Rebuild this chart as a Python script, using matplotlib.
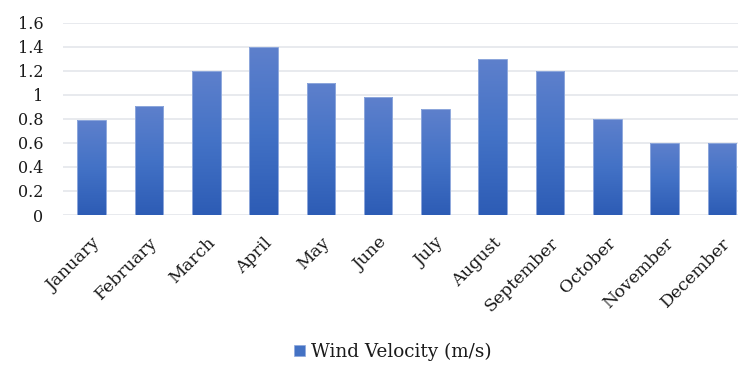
import matplotlib
matplotlib.use("Agg")
import matplotlib.pyplot as plt
import matplotlib.transforms as mtransforms
import numpy as np
from matplotlib.colors import LinearSegmentedColormap
from matplotlib.patches import Patch

months = ["January", "February", "March", "April", "May", "June", "July",
          "August", "September", "October", "November", "December"]
wind_velocity = [0.79, 0.91, 1.2, 1.4, 1.1, 0.98, 0.88, 1.3, 1.2, 0.8, 0.6, 0.6]
y_ticks = [0, 0.2, 0.4, 0.6, 0.8, 1.0, 1.2, 1.4, 1.6]
y_tick_labels = ["0", "0.2", "0.4", "0.6", "0.8", "1", "1.2", "1.4", "1.6"]
series_name = "Wind Velocity (m/s)"

plt.rcParams['font.family'] = ['DejaVu Serif']

W, H = 738, 365
fig = plt.figure(figsize=(W / 100, H / 100), dpi=100)
ax = fig.add_axes([63 / W, 150 / H, (W - 63) / W, 192.3 / H])

x = np.arange(len(months))
bars = ax.bar(x, wind_velocity, width=0.5, color="#4472C4",
              edgecolor="#8EA8DC", linewidth=0.7, zorder=3)

cmap = LinearSegmentedColormap.from_list(
    "grad", ["#2D5CB5", "#4372C6", "#5E80CC"])
grad = np.linspace(0, 1, 256).reshape(-1, 1)
for b in bars:
    bx, bw, bh = b.get_x(), b.get_width(), b.get_height()
    im = ax.imshow(grad, extent=[bx, bx + bw, 0, bh], origin="lower",
                   aspect="auto", cmap=cmap, zorder=2.5, interpolation="bilinear")
    im.set_clip_path(b)
    b.set_facecolor("none")

ax.set_xlim(-0.5, 11.28)
ax.set_ylim(0, 1.6)
ax.set_yticks(y_ticks)
ax.set_yticklabels(y_tick_labels, fontsize=11.5, color="#1a1a1a")
ax.set_xticks(x)
ax.set_xticklabels(months, rotation=45, ha="right", rotation_mode="anchor",
                   fontsize=12.5, color="#1a1a1a")
shift = mtransforms.ScaledTranslation(-5 / 100, -1 / 100, fig.dpi_scale_trans)
for lab in ax.get_xticklabels():
    lab.set_transform(lab.get_transform() + shift)
ax.tick_params(axis="both", length=0)
ax.tick_params(axis="y", pad=14)
ax.tick_params(axis="x", pad=14)
for s in ax.spines.values():
    s.set_visible(False)
ax.yaxis.grid(True, color="#E1E4EA", linewidth=1.1, zorder=0)
ax.set_axisbelow(True)

handle = Patch(facecolor="#4472C4", edgecolor="#8EA8DC", linewidth=0.5)
fig.legend([handle], [series_name], loc="center",
           bbox_to_anchor=(393 / W, 1 - 352 / H), frameon=False,
           fontsize=13.2, handlelength=0.6, handleheight=0.6,
           handletextpad=0.35, labelcolor="#1a1a1a")

fig.savefig("out.png", dpi=100)
